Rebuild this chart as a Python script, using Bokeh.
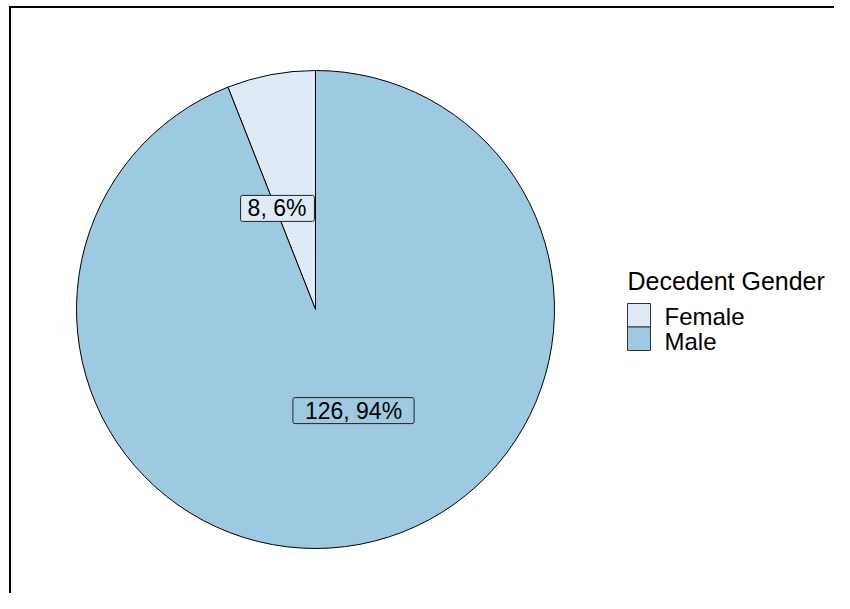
import math
from bokeh.plotting import figure
from bokeh.models import ColumnDataSource, Label
from bokeh.core.properties import value
from bokeh.embed import file_html
from bokeh.resources import INLINE

# ---- data ----
genders = ["Female", "Male"]
counts = [8, 126]
colors = ["#deebf7", "#9ecae1"]
legend_title = "Decedent Gender"

W, H = 834, 593
FONT = "Liberation Sans"

p = figure(width=W, height=H, x_range=(0, W), y_range=(0, H),
           output_backend="svg", toolbar_location=None, min_border=0)
p.axis.visible = False
p.grid.visible = False
p.outline_line_color = None
p.background_fill_color = "white"
p.border_fill_color = "white"

# outer box (left & top edges visible)
p.segment(x0=[9.5, 8.5], y0=[-5, H - 6.5], x1=[9.5, W + 5], y1=[H - 6.5, H - 6.5],
          line_color="black", line_width=2)

cx, cy, R = 315, H - 309, 239
total = sum(counts)
starts, ends = [], []
a = math.pi / 2
for c in counts:
    starts.append(a)
    a = a + 2 * math.pi * c / total
    ends.append(a)

src = ColumnDataSource(dict(gender=genders, start=starts, end=ends, color=colors,
                            x=[cx] * len(counts), y=[cy] * len(counts)))
p.wedge(x="x", y="y", radius=R, start_angle="start", end_angle="end",
        direction="anticlock", fill_color="color", line_color="black",
        line_width=1, source=src)

# slice labels
label_r = 108
label_angles = [110.6, 290.6]
pads = [dict(left=7, right=8, top=0, bottom=0), dict(left=12, right=12, top=0, bottom=0)]
for g, c, col, ang, pad in zip(genders, counts, colors, label_angles, pads):
    pct = round(100 * c / total)
    lx = cx + label_r * math.cos(math.radians(ang))
    ly = cy + label_r * math.sin(math.radians(ang))
    p.add_layout(Label(x=lx, y=ly, text=f"{c}, {pct}%", text_align="center",
                       text_baseline="middle", text_font_size="23px", text_font=FONT,
                       text_color="black", background_fill_color=col,
                       border_line_color="#222222", border_line_width=1,
                       padding=pad, border_radius=2))

# legend (drawn manually to match layout)
lg_x, lg_top = 638.5, H - 303
sw = 23.5
n = len(genders)
sw_y = [lg_top - sw / 2 - i * sw for i in range(n)]
lsrc = ColumnDataSource(dict(x=[lg_x] * n, y=sw_y, color=colors, label=genders,
                             tx=[664] * n, ty=[H - 316 - i * 24.5 for i in range(n)]))
p.rect(x="x", y="y", width=23, height=sw, fill_color="color", line_color="#333333",
       line_width=1, source=lsrc)
p.text(x="tx", y="ty", text="label", text_font=value(FONT), text_font_size="24px",
       text_color="black", text_baseline="middle", text_align="left", source=lsrc)
p.text(x=[627], y=[H - 280.5], text=[legend_title], text_font=value(FONT),
       text_font_size="25px", text_color="black", text_baseline="middle",
       text_align="left")

open("out.html", "w").write(file_html(p, INLINE))
